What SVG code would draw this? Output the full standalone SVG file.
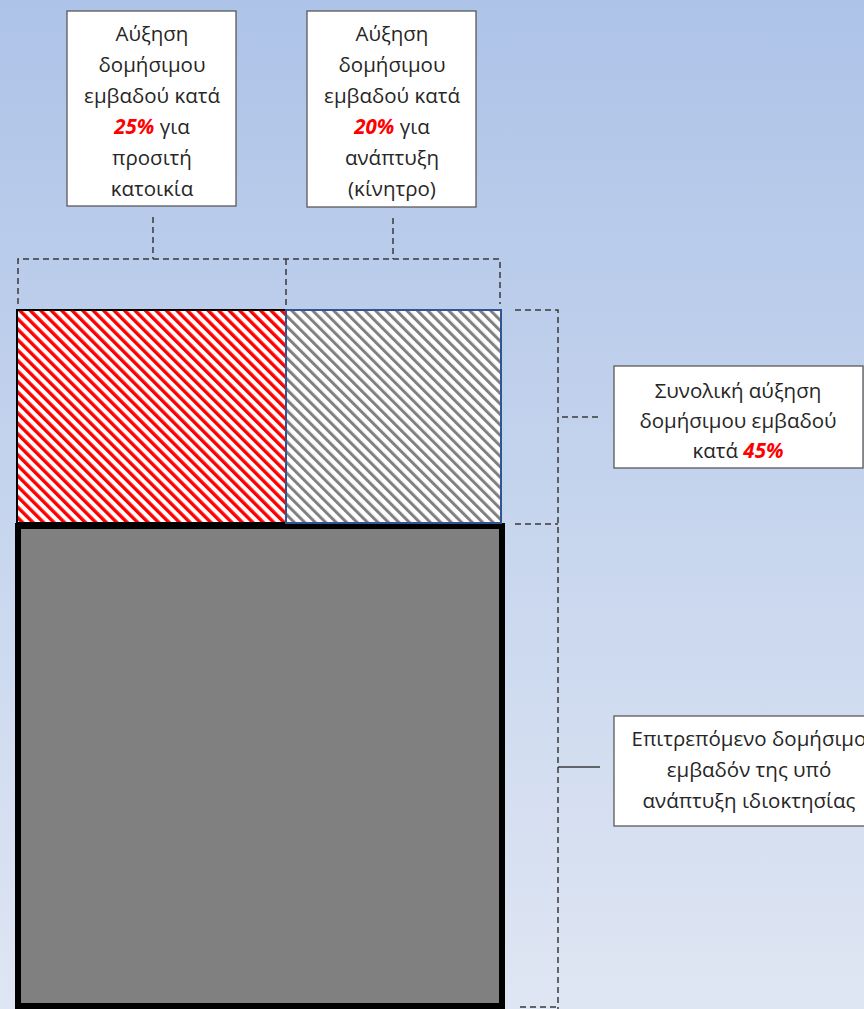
<svg xmlns="http://www.w3.org/2000/svg" width="864" height="1009" viewBox="0 0 864 1009">
<defs>
<linearGradient id="bg" x1="0" y1="0" x2="0" y2="1">
<stop offset="0" stop-color="#adc3e8"/>
<stop offset="1" stop-color="#dfe6f3"/>
</linearGradient>
<pattern id="hatchRed" patternUnits="userSpaceOnUse" width="7.4" height="7.4" patternTransform="rotate(-45)">
<rect width="7.4" height="7.4" fill="#ffffff"/>
<rect x="0" y="0" width="3.4" height="7.4" fill="#ff0000"/>
</pattern>
<pattern id="hatchGray" patternUnits="userSpaceOnUse" width="7.4" height="7.4" patternTransform="rotate(-45)">
<rect width="7.4" height="7.4" fill="#ffffff"/>
<rect x="0" y="0" width="3" height="7.4" fill="#808080"/>
</pattern>
</defs>
<style>
.box{fill:#ffffff;stroke:#595959;stroke-width:1.3}
.t{font-family:"Open Sans","Noto Sans","DejaVu Sans",sans-serif;font-size:20.5px;fill:#262626;text-anchor:middle}
.pct{font-weight:bold;font-style:italic;fill:#ff0000}
.dash{fill:none;stroke:#3a3a3a;stroke-width:1.5;stroke-dasharray:6 4}
.solid{fill:none;stroke:#3a3a3a;stroke-width:1.5}
</style>
<rect x="0" y="0" width="864" height="1009" fill="url(#bg)"/>

<g id="connectors">
<path class="dash" d="M153 217 V259"/>
<path class="dash" d="M393 218 V259"/>
<path class="dash" d="M18 304 V259 H500 V304"/>
<path class="dash" d="M286 259 V310"/>
<path class="dash" d="M515 310 H558 V1009"/>
<path class="dash" d="M515 524 H558"/>
<path class="dash" d="M520 1007 H558"/>
<path class="dash" d="M562 417 H602"/>
<path class="solid" d="M558 767 H600"/>
</g>

<g id="base-area">
<rect x="18" y="526" width="484" height="480" fill="#808080" stroke="#000000" stroke-width="6"/>
</g>

<g id="affordable-area">
<rect x="17" y="310" width="269" height="213" fill="url(#hatchRed)" stroke="#000000" stroke-width="2"/>
</g>

<g id="incentive-area">
<rect x="286" y="310" width="215" height="213" fill="url(#hatchGray)" stroke="#2f5597" stroke-width="2"/>
</g>

<g id="label-25">
<rect class="box" x="67" y="11" width="169" height="195"/>
<text class="t" x="152" y="41">Αύξηση</text>
<text class="t" x="152" y="72">δομήσιμου</text>
<text class="t" x="152" y="103">εμβαδού κατά</text>
<text class="t" x="152" y="134"><tspan class="pct">25%</tspan> για</text>
<text class="t" x="152" y="165">προσιτή</text>
<text class="t" x="152" y="196">κατοικία</text>
</g>

<g id="label-20">
<rect class="box" x="307" y="11" width="169" height="196"/>
<text class="t" x="392" y="41">Αύξηση</text>
<text class="t" x="392" y="72">δομήσιμου</text>
<text class="t" x="392" y="103">εμβαδού κατά</text>
<text class="t" x="392" y="134"><tspan class="pct">20%</tspan> για</text>
<text class="t" x="392" y="165">ανάπτυξη</text>
<text class="t" x="392" y="196">(κίνητρο)</text>
</g>

<g id="label-45">
<rect class="box" x="614" y="366" width="249" height="102"/>
<text class="t" x="738" y="398">Συνολική αύξηση</text>
<text class="t" x="738" y="428">δομήσιμου εμβαδού</text>
<text class="t" x="738" y="458">κατά <tspan class="pct">45%</tspan></text>
</g>

<g id="label-base">
<rect class="box" x="614" y="716" width="280" height="110"/>
<text class="t" x="749" y="746">Επιτρεπόμενο δομήσιμο</text>
<text class="t" x="749" y="777">εμβαδόν της υπό</text>
<text class="t" x="749" y="808">ανάπτυξη ιδιοκτησίας</text>
</g>
</svg>
